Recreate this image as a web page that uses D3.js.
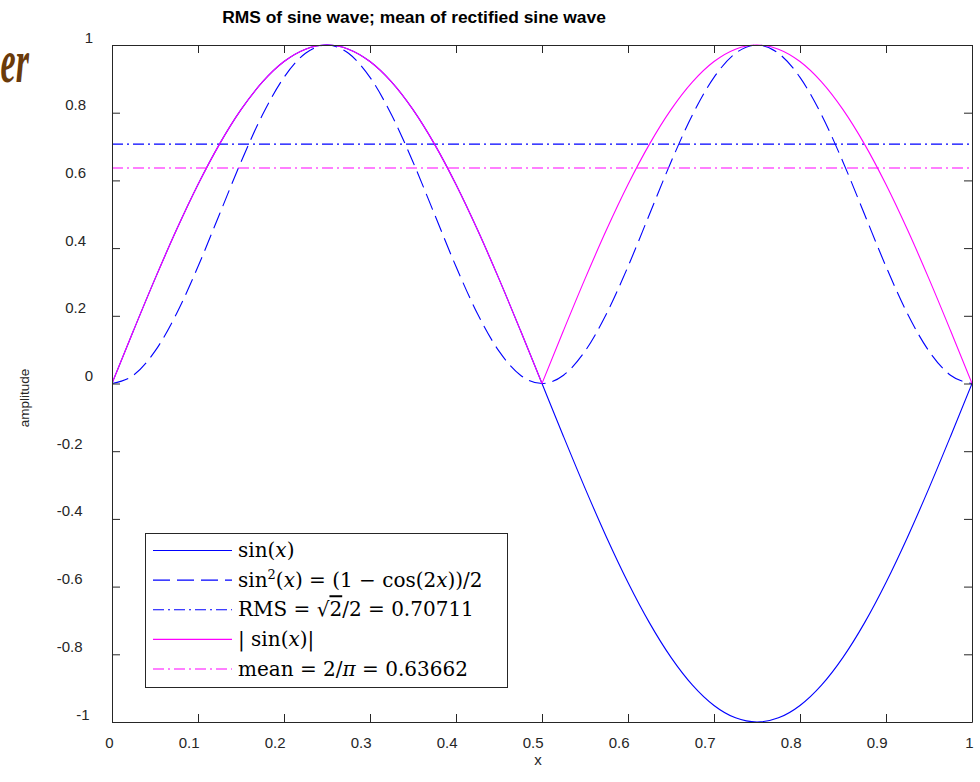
<!DOCTYPE html>
<html><head><meta charset="utf-8">
<script src="https://cdn.jsdelivr.net/npm/d3@7"></script>
<style>body{margin:0;background:#fff;} svg{display:block;}</style>
</head><body>
<svg id="chart" width="980" height="782"></svg>
<script>
// ---------- data ----------
const xSamples = [0,0.025,0.05,0.075,0.1,0.125,0.15,0.175,0.2,0.225,0.25,0.275,0.3,0.325,0.35,0.375,0.4,0.425,0.45,0.475,0.5,
  0.525,0.55,0.575,0.6,0.625,0.65,0.675,0.7,0.725,0.75,0.775,0.8,0.825,0.85,0.875,0.9,0.925,0.95,0.975,1];
const sinValues = [0,0.1564,0.3090,0.4540,0.5878,0.7071,0.8090,0.8910,0.9511,0.9877,1,0.9877,0.9511,0.8910,0.8090,0.7071,0.5878,0.4540,0.3090,0.1564,0,
  -0.1564,-0.3090,-0.4540,-0.5878,-0.7071,-0.8090,-0.8910,-0.9511,-0.9877,-1,-0.9877,-0.9511,-0.8910,-0.8090,-0.7071,-0.5878,-0.4540,-0.3090,-0.1564,0];
const sinSqValues = [0,0.0245,0.0955,0.2061,0.3455,0.5,0.6545,0.7939,0.9045,0.9755,1,0.9755,0.9045,0.7939,0.6545,0.5,0.3455,0.2061,0.0955,0.0245,0,
  0.0245,0.0955,0.2061,0.3455,0.5,0.6545,0.7939,0.9045,0.9755,1,0.9755,0.9045,0.7939,0.6545,0.5,0.3455,0.2061,0.0955,0.0245,0];
const absSinValues = [0,0.1564,0.3090,0.4540,0.5878,0.7071,0.8090,0.8910,0.9511,0.9877,1,0.9877,0.9511,0.8910,0.8090,0.7071,0.5878,0.4540,0.3090,0.1564,0,
  0.1564,0.3090,0.4540,0.5878,0.7071,0.8090,0.8910,0.9511,0.9877,1,0.9877,0.9511,0.8910,0.8090,0.7071,0.5878,0.4540,0.3090,0.1564,0];
const rmsValue = 0.70711;
const meanValue = 0.63662;
const xTicks = [0,0.1,0.2,0.3,0.4,0.5,0.6,0.7,0.8,0.9,1];
const xTickLabels = ["0","0.1","0.2","0.3","0.4","0.5","0.6","0.7","0.8","0.9","1"];
const yTicks = [-1,-0.8,-0.6,-0.4,-0.2,0,0.2,0.4,0.6,0.8,1];
const yTickLabels = ["-1","-0.8","-0.6","-0.4","-0.2","0","0.2","0.4","0.6","0.8","1"];
const titleText = "RMS of sine wave; mean of rectified sine wave";
const xLabelText = "x";
const yLabelText = "amplitude";

// ---------- layout ----------
const W = 980, H = 782;
const L = 112, R = 972, T = 45, B = 722;
const axisColor = "#262626";
const blue = "#0000ff", magenta = "#ff00ff";
const dashStyle = "17,7", dashDotStyle = "11,4,2,4";

const svg = d3.select("#chart");
svg.append("rect").attr("width", W).attr("height", H).attr("fill", "#fff");

// stray decoration at top-left
svg.append("text").attr("transform", "translate(29,82) scale(0.55,1)")
  .attr("text-anchor", "end").attr("font-family", "Liberation Serif").attr("font-style", "italic")
  .attr("font-weight", "bold").attr("font-size", 62).attr("fill", "#6a3a0a").text("er");

const x = d3.scaleLinear().domain([0, 1]).range([L, R]);
const y = d3.scaleLinear().domain([-1, 1]).range([B, T]);

svg.append("rect").attr("x", L).attr("y", T).attr("width", R - L).attr("height", B - T).attr("fill", "#fff");

svg.append("clipPath").attr("id", "clip").append("rect").attr("x", L).attr("y", T - 1).attr("width", R - L).attr("height", B - T + 2);

const lineGen = d3.line().x(d => x(d[0])).y(d => y(d[1])).curve(d3.curveMonotoneX);
function pairs(vals) { return xSamples.map((xv, i) => [xv, vals[i]]); }
// split a series where it touches zero with a kink
function splitAtZeros(vals) {
  const segs = []; let cur = [];
  xSamples.forEach((xv, i) => {
    cur.push([xv, vals[i]]);
    if (vals[i] === 0 && i > 0 && i < xSamples.length - 1 && vals[i-1] > 0 && vals[i+1] > 0) { segs.push(cur); cur = [[xv, vals[i]]]; }
  });
  segs.push(cur);
  return segs;
}

const curves = svg.append("g").attr("clip-path", "url(#clip)").attr("fill", "none");
curves.append("path").attr("d", lineGen(pairs(sinValues))).attr("stroke", blue).attr("stroke-width", 1.1);
curves.append("path").attr("d", lineGen(pairs(sinSqValues))).attr("stroke", blue).attr("stroke-width", 1.1).attr("stroke-dasharray", dashStyle);
curves.append("line").attr("x1", x(0)).attr("x2", x(1)).attr("y1", y(rmsValue)).attr("y2", y(rmsValue))
  .attr("stroke", blue).attr("stroke-width", 1.1).attr("stroke-dasharray", dashDotStyle);
splitAtZeros(absSinValues).forEach(seg => {
  curves.append("path").attr("d", lineGen(seg)).attr("stroke", magenta).attr("stroke-width", 1.1);
});
curves.append("line").attr("x1", x(0)).attr("x2", x(1)).attr("y1", y(meanValue)).attr("y2", y(meanValue))
  .attr("stroke", magenta).attr("stroke-width", 1.1).attr("stroke-dasharray", dashDotStyle);

// ---------- axes (ticks inward on all four sides) ----------
function styleAxis(g) {
  g.selectAll("path.domain").attr("stroke", axisColor).attr("stroke-width", 1);
  g.selectAll(".tick line").attr("stroke", axisColor).attr("stroke-width", 1);
}
const gx = svg.append("g").attr("transform", `translate(0,${B})`)
  .call(d3.axisBottom(x).tickValues(xTicks).tickSize(-8).tickSizeOuter(0).tickFormat((d, i) => xTickLabels[i]));
styleAxis(gx);
gx.selectAll(".tick text").attr("fill", axisColor).attr("font-family", "Liberation Sans, Arial, sans-serif")
  .attr("font-size", 15).attr("text-anchor", "end").attr("x", 1).attr("y", 26).attr("dy", null);

const gxTop = svg.append("g").attr("transform", `translate(0,${T})`)
  .call(d3.axisTop(x).tickValues(xTicks).tickSize(-8).tickSizeOuter(0).tickFormat(""));
styleAxis(gxTop);

const gy = svg.append("g").attr("transform", `translate(${L},0)`)
  .call(d3.axisLeft(y).tickValues(yTicks).tickSize(-8).tickSizeOuter(0).tickFormat((d, i) => yTickLabels[i]));
styleAxis(gy);
gy.selectAll(".tick text").attr("fill", axisColor).attr("font-family", "Liberation Sans, Arial, sans-serif")
  .attr("font-size", 15).attr("text-anchor", "end").attr("dy", null).attr("y", -3)
  .attr("x", function () { const n = this.textContent.length; return (93 - 3.5 * (n - 1)) - L; });

const gyRight = svg.append("g").attr("transform", `translate(${R},0)`)
  .call(d3.axisRight(y).tickValues(yTicks).tickSize(-8).tickSizeOuter(0).tickFormat(""));
styleAxis(gyRight);

// ---------- titles ----------
svg.append("text").attr("x", 414).attr("y", 22.5).attr("text-anchor", "middle")
  .attr("font-family", "Liberation Sans, Arial, sans-serif").attr("font-weight", "bold").attr("font-size", 17.4)
  .attr("fill", "#000").text(titleText);
svg.append("text").attr("x", 538).attr("y", 765).attr("text-anchor", "middle")
  .attr("font-family", "Liberation Sans, Arial, sans-serif").attr("font-size", 15).attr("fill", axisColor).text(xLabelText);
svg.append("text").attr("transform", "translate(29,398) rotate(-90)").attr("text-anchor", "middle")
  .attr("font-family", "Liberation Sans, Arial, sans-serif").attr("font-size", 13.5).attr("fill", axisColor).text(yLabelText);

// ---------- legend ----------
const legendRows = [
  { color: blue, dash: null, parts: [["sin(", ""], ["x", "i"], [")", ""]] },
  { color: blue, dash: dashStyle, parts: [["sin", ""], ["2", "sup"], ["(", "down"], ["x", "i"], [") = (1 − cos(2", ""], ["x", "i"], ["))/2", ""]] },
  { color: blue, dash: dashDotStyle, parts: [["RMS = √", ""], ["2", "ov"], ["/2 = 0.70711", ""]] },
  { color: magenta, dash: null, parts: [["| sin(", ""], ["x", "i"], [")|", ""]] },
  { color: magenta, dash: dashDotStyle, parts: [["mean = 2/", ""], ["π", "i"], [" = 0.63662", ""]] }
];
const lg = svg.append("g");
lg.append("rect").attr("x", 145.5).attr("y", 533.5).attr("width", 362).attr("height", 154)
  .attr("fill", "#fff").attr("stroke", axisColor).attr("stroke-width", 1);
const rowY = d3.scaleLinear().domain([0, 4]).range([550.5, 669]);
legendRows.forEach((r, i) => {
  const cy = rowY(i);
  lg.append("line").attr("x1", 153).attr("x2", 232).attr("y1", cy).attr("y2", cy)
    .attr("stroke", r.color).attr("stroke-width", 1.1).attr("stroke-dasharray", r.dash);
  const t = lg.append("text").attr("x", 238).attr("y", cy + 6.5)
    .attr("font-family", "DejaVu Serif, serif").attr("font-size", 20).attr("fill", "#000");
  r.parts.forEach(([s, k]) => {
    const ts = t.append("tspan").text(s);
    if (k === "i") ts.attr("font-style", "italic");
    if (k === "sup") ts.attr("font-size", 13).attr("dy", -8);
    if (k === "down") ts.attr("dy", 8);
    if (k === "ov") ts.attr("text-decoration", "overline");
  });
});
</script>
</body></html>
